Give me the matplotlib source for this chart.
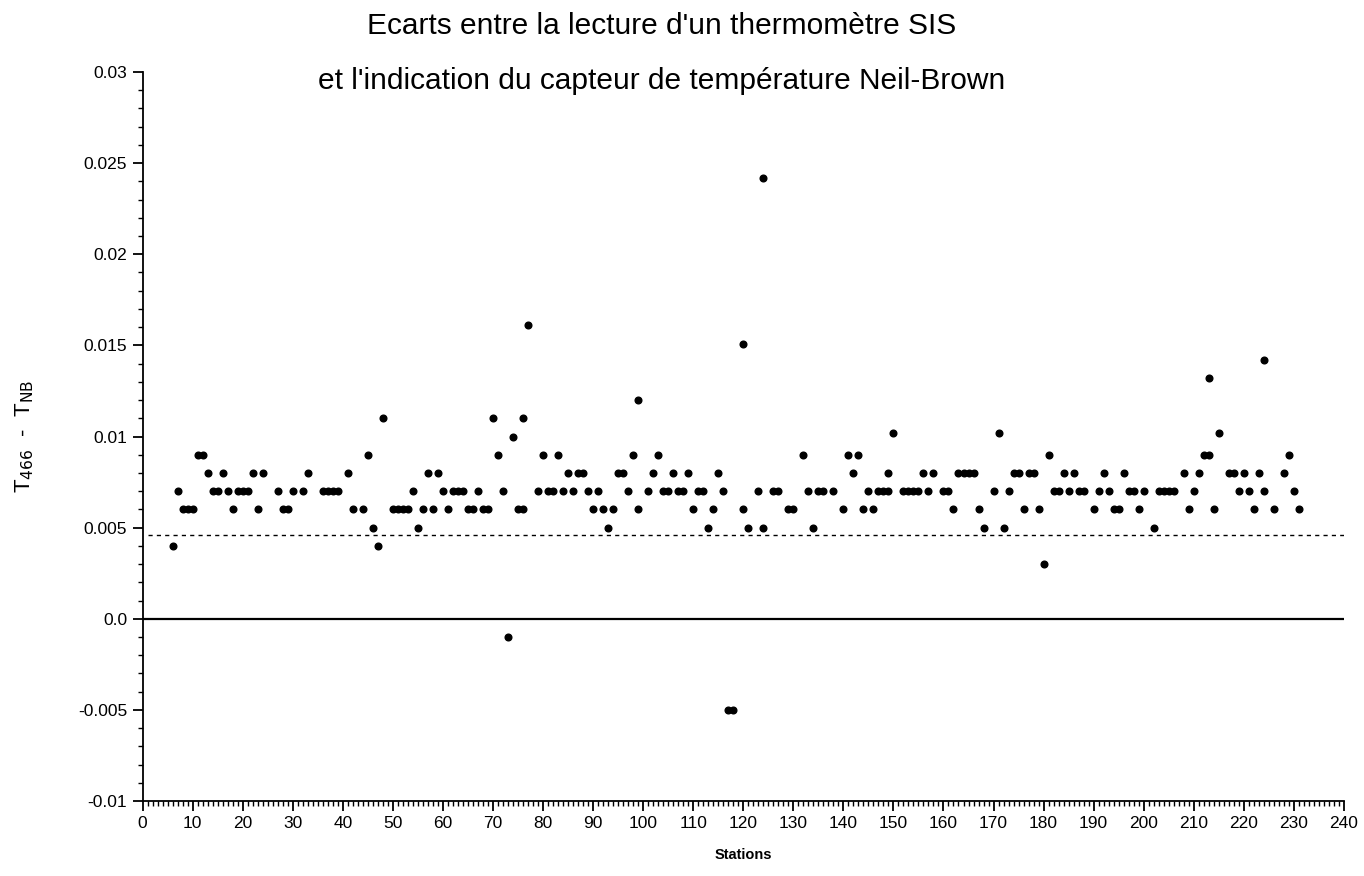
import matplotlib.pyplot as plt
from matplotlib.ticker import MultipleLocator, FixedLocator

plt.rcParams['font.family'] = ['Liberation Sans', 'DejaVu Sans']

# Stations and temperature differences (T466 - TNB)
stations = [6, 7, 8, 9, 10, 11, 12, 13, 14, 15, 16, 17, 18, 19, 20, 21, 22, 23, 24,
            27, 28, 29, 30, 32, 33, 36, 37, 38, 39, 41, 42, 44, 45, 46, 47, 48,
            50, 51, 52, 53, 54, 55, 56, 57, 58, 59, 60, 61, 62, 63, 64, 65, 66, 67,
            68, 69, 70, 71, 72, 73, 74, 75, 76, 76, 77, 79, 80, 81, 82, 83, 84, 85,
            86, 87, 88, 89, 90, 91, 92, 93, 94, 95, 96, 97, 98, 99, 99, 101, 102,
            103, 104, 105, 106, 107, 108, 109, 110, 111, 112, 113, 114, 115, 116,
            117, 118, 120, 120, 121, 123, 124, 124, 126, 127, 129, 130, 132, 133,
            134, 135, 136, 138, 140, 141, 142, 143, 144, 145, 146, 147, 148, 149,
            149, 150, 152, 153, 154, 155, 156, 157, 158, 160, 161, 162, 163, 164,
            165, 166, 167, 168, 170, 171, 172, 173, 174, 175, 176, 177, 178, 179,
            180, 181, 182, 183, 184, 185, 186, 187, 188, 190, 191, 192, 193, 194,
            195, 196, 197, 198, 199, 200, 202, 203, 204, 205, 206, 208, 209, 210,
            211, 212, 213, 213, 214, 215, 217, 218, 219, 220, 221, 222, 223, 224,
            224, 226, 228, 229, 230, 231]
ecarts = [0.004, 0.007, 0.006, 0.006, 0.006, 0.009, 0.009, 0.008, 0.007, 0.007, 0.008,
          0.007, 0.006, 0.007, 0.007, 0.007, 0.008, 0.006, 0.008,
          0.007, 0.006, 0.006, 0.007, 0.007, 0.008, 0.007, 0.007, 0.007, 0.007,
          0.008, 0.006, 0.006, 0.009, 0.005, 0.004, 0.011,
          0.006, 0.006, 0.006, 0.006, 0.007, 0.005, 0.006, 0.008, 0.006, 0.008,
          0.007, 0.006, 0.007, 0.007, 0.007, 0.006, 0.006, 0.007,
          0.006, 0.006, 0.011, 0.009, 0.007, -0.001, 0.010, 0.006, 0.006, 0.011,
          0.0161, 0.007, 0.009, 0.007, 0.007, 0.009, 0.007, 0.008,
          0.007, 0.008, 0.008, 0.007, 0.006, 0.007, 0.006, 0.005, 0.006, 0.008,
          0.008, 0.007, 0.009, 0.006, 0.012, 0.007, 0.008,
          0.009, 0.007, 0.007, 0.008, 0.007, 0.007, 0.008, 0.006, 0.007, 0.007,
          0.005, 0.006, 0.008, 0.007,
          -0.005, -0.005, 0.006, 0.0151, 0.005, 0.007, 0.005, 0.0242, 0.007,
          0.007, 0.006, 0.006, 0.009, 0.007,
          0.005, 0.007, 0.007, 0.007, 0.006, 0.009, 0.008, 0.009, 0.006, 0.007,
          0.006, 0.007, 0.007, 0.007,
          0.008, 0.0102, 0.007, 0.007, 0.007, 0.007, 0.008, 0.007, 0.008, 0.007,
          0.007, 0.006, 0.008, 0.008,
          0.008, 0.008, 0.006, 0.005, 0.007, 0.0102, 0.005, 0.007, 0.008, 0.008,
          0.006, 0.008, 0.008, 0.006,
          0.003, 0.009, 0.007, 0.007, 0.008, 0.007, 0.008, 0.007, 0.007, 0.006,
          0.007, 0.008, 0.007, 0.006,
          0.006, 0.008, 0.007, 0.007, 0.006, 0.007, 0.005, 0.007, 0.007, 0.007,
          0.007, 0.008, 0.006, 0.007,
          0.008, 0.009, 0.009, 0.0132, 0.006, 0.0102, 0.008, 0.008, 0.007, 0.008,
          0.007, 0.006, 0.008, 0.007,
          0.0142, 0.006, 0.008, 0.009, 0.007, 0.006]
mean_ecart = 0.0046

fig = plt.figure(figsize=(13.64, 8.76), dpi=100)
ax = fig.add_axes([0.1045, 0.0856, 0.8808, 0.8322])

ax.plot(stations, ecarts, 'o', color='black', markersize=4.8, linestyle='none')
ax.plot([1, 240], [mean_ecart, mean_ecart], color='black', linestyle=(0, (3, 3)), linewidth=1)
ax.plot([0, 240], [0, 0], color='black', linewidth=1.6)

ax.set_xlim(0, 240)
ax.set_ylim(-0.01, 0.03)

ax.spines['top'].set_visible(False)
ax.spines['right'].set_visible(False)
ax.spines['left'].set_linewidth(1.3)
ax.spines['bottom'].set_linewidth(1.3)

ax.xaxis.set_major_locator(MultipleLocator(10))
ax.xaxis.set_minor_locator(MultipleLocator(1))
ax.yaxis.set_major_locator(FixedLocator([-0.01, -0.005, 0.0, 0.005, 0.01, 0.015, 0.02, 0.025, 0.03]))
ax.yaxis.set_minor_locator(MultipleLocator(0.001))
ax.set_yticklabels(['-0.01', '-0.005', '0.0', '0.005', '0.01', '0.015', '0.02', '0.025', '0.03'])

ax.tick_params(axis='both', which='major', direction='out', length=7, width=1.3,
               labelsize=12.5, pad=4)
ax.tick_params(axis='both', which='minor', direction='out', length=3.5, width=1)

ax.set_xlabel('Stations', fontsize=10.5, fontweight='bold', labelpad=12)
ax.set_ylabel(r'T$_{\mathrm{466}}$  -  T$_{\mathrm{NB}}$', fontsize=16, labelpad=30)

fig.text(0.485, 0.970, "Ecarts entre la lecture d'un thermomètre SIS",
         ha='center', va='center', fontsize=21.5)
fig.text(0.485, 0.907, "et l'indication du capteur de température Neil-Brown",
         ha='center', va='center', fontsize=21.5)

plt.savefig('out.png', dpi=100)
